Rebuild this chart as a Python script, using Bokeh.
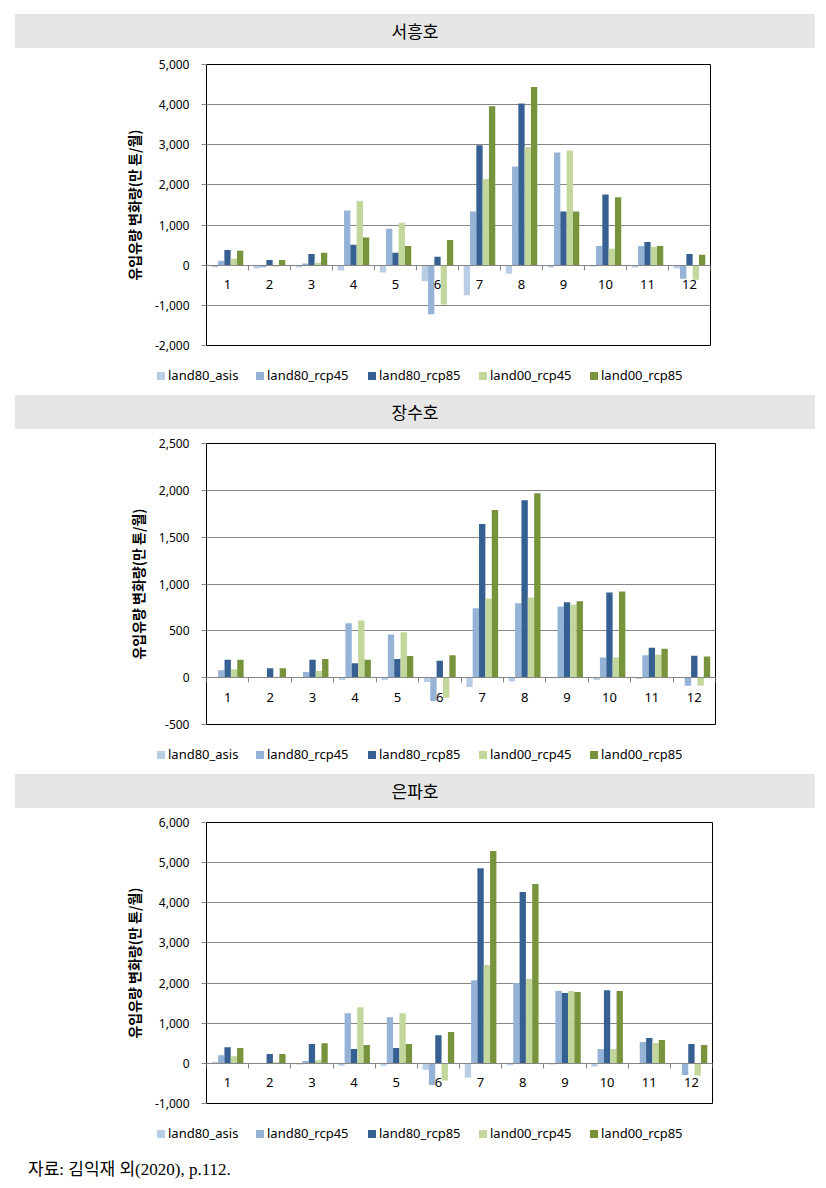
from bokeh.plotting import figure
from bokeh.models import (Range1d, FixedTicker, SingleIntervalTicker, NumeralTickFormatter,
                          Div, ColumnDataSource)
from bokeh.layouts import column
from bokeh.transform import dodge
from bokeh.embed import file_html
from bokeh.resources import INLINE

months = [1, 2, 3, 4, 5, 6, 7, 8, 9, 10, 11, 12]
series_names = ["land80_asis", "land80_rcp45", "land80_rcp85", "land00_rcp45", "land00_rcp85"]
colors = ["#b9cde5", "#95b3d7", "#376092", "#c3d69b", "#77933c"]
y_title = "유입유량 변화량(만 톤/월)"
source_note = "자료: 김익재 외(2020), p.112."

# 서흥호
lake1_name = "서흥호"
lake1_land80_asis = [-50, -80, -50, -130, -180, -400, -750, -210, -60, -30, -60, -80]
lake1_land80_rcp45 = [110, -50, 40, 1360, 910, -1220, 1340, 2460, 2810, 480, 480, -340]
lake1_land80_rcp85 = [380, 130, 280, 510, 310, 210, 2990, 4030, 1340, 1760, 580, 280]
lake1_land00_rcp45 = [160, -30, 60, 1600, 1060, -980, 2150, 2940, 2860, 410, 460, -360]
lake1_land00_rcp85 = [360, 130, 310, 690, 480, 630, 3960, 4440, 1340, 1690, 480, 260]

# 장수호
lake2_name = "장수호"
lake2_land80_asis = [0, 0, 0, -25, -25, -45, -100, -40, -5, -25, -15, 0]
lake2_land80_rcp45 = [80, 0, 60, 580, 460, -250, 740, 795, 760, 215, 240, -85]
lake2_land80_rcp85 = [190, 100, 190, 155, 200, 180, 1640, 1895, 805, 910, 320, 235]
lake2_land00_rcp45 = [90, 5, 70, 610, 485, -215, 845, 855, 780, 215, 245, -85]
lake2_land00_rcp85 = [190, 100, 200, 190, 230, 240, 1790, 1970, 815, 920, 310, 225]

# 은파호
lake3_name = "은파호"
lake3_land80_asis = [40, 0, -30, -60, -60, -160, -360, -50, -30, -80, 0, 0]
lake3_land80_rcp45 = [200, 0, 60, 1250, 1150, -540, 2070, 2000, 1800, 360, 530, -290]
lake3_land80_rcp85 = [400, 230, 480, 355, 380, 700, 4860, 4270, 1750, 1820, 630, 480]
lake3_land00_rcp45 = [180, 30, 80, 1400, 1250, -430, 2450, 2100, 1800, 360, 510, -300]
lake3_land00_rcp85 = [380, 230, 500, 455, 480, 780, 5290, 4470, 1780, 1800, 580, 460]

offsets = [-0.3, -0.15, 0.0, 0.15, 0.3]
bar_w = 0.15
GRID = "#868686"
TICK_FONT = "Noto Sans"
KFONT = "Noto Sans CJK KR"
legend_item_widths = [99, 112, 111, 111, 111]


def title_div(text, top):
    return Div(text=text, width=800, height=34, margin=(top, 0, 0, 15),
               styles={"background-color": "#e6e6e6", "text-align": "center",
                       "font-size": "17px", "line-height": "34px",
                       "font-family": KFONT, "color": "#000"})


def legend_div():
    parts = []
    for n, c, w in zip(series_names, colors, legend_item_widths):
        parts.append(
            f'<span style="display:inline-block;width:{w}px;white-space:nowrap;">'
            f'<span style="display:inline-block;width:8px;height:8px;background:{c};'
            f'margin-right:3px;vertical-align:0px;"></span>{n}</span>')
    return Div(text="".join(parts), width=640, height=40, margin=(0, 0, 0, 157),
               styles={"font-size": "13px", "line-height": "40px", "font-family": TICK_FONT,
                       "color": "#000", "white-space": "nowrap"})


def make_panel(series, ymin, ymax, step, left, right, btop, fh, bbot):
    src = ColumnDataSource(dict(month=months, **{n: v for n, v in zip(series_names, series)}))
    p = figure(frame_width=right - left, frame_height=fh,
               x_range=Range1d(0.5, 12.5), y_range=Range1d(ymin, ymax),
               output_backend="svg", toolbar_location=None,
               min_border_left=left, min_border_right=100,
               min_border_top=btop, min_border_bottom=bbot)
    p.background_fill_color = "white"
    p.border_fill_color = "white"
    p.outline_line_color = "black"
    p.outline_line_width = 1
    p.xgrid.visible = False
    p.ygrid.grid_line_color = GRID
    p.ygrid.grid_line_width = 1
    p.ygrid.ticker = SingleIntervalTicker(interval=step, num_minor_ticks=0)

    for i, n in enumerate(series_names):
        p.vbar(x=dodge("month", offsets[i]), top=n, bottom=0, width=bar_w,
               source=src, fill_color=colors[i], line_color=None, name=n)

    xa = p.xaxis[0]
    xa.fixed_location = 0
    xa.ticker = FixedTicker(ticks=months, minor_ticks=[m - 0.5 for m in months] + [months[-1] + 0.5])
    xa.major_tick_out = 0
    xa.major_tick_in = 0
    xa.minor_tick_out = 5
    xa.minor_tick_in = 0
    xa.minor_tick_line_color = GRID
    xa.axis_line_color = GRID
    xa.major_label_text_font = TICK_FONT
    xa.major_label_text_font_size = "13px"
    xa.major_label_text_color = "#000"
    xa.major_label_standoff = 10

    ya = p.yaxis[0]
    ya.ticker = SingleIntervalTicker(interval=step, num_minor_ticks=0)
    ya.formatter = NumeralTickFormatter(format="0,0")
    ya.major_tick_out = 5
    ya.major_tick_in = 0
    ya.minor_tick_line_color = None
    ya.major_tick_line_color = GRID
    ya.axis_line_color = None
    ya.major_label_text_font = TICK_FONT
    ya.major_label_text_font_size = "12px"
    ya.major_label_text_color = "#000"
    ya.major_label_standoff = 12
    ya.axis_label = y_title
    ya.axis_label_text_font = KFONT
    ya.axis_label_text_font_size = "14px"
    ya.axis_label_text_font_style = "bold"
    ya.axis_label_text_color = "#000"
    ya.axis_label_standoff = 8
    return p


d1 = title_div(lake1_name, 14)
p1 = make_panel([lake1_land80_asis, lake1_land80_rcp45, lake1_land80_rcp85, lake1_land00_rcp45, lake1_land00_rcp85],
                -2000, 5000, 1000, 206, 710, 16, 281, 10)
l1 = legend_div()
d2 = title_div(lake2_name, 0)
p2 = make_panel([lake2_land80_asis, lake2_land80_rcp45, lake2_land80_rcp85, lake2_land00_rcp45, lake2_land00_rcp85],
                -500, 2500, 500, 201, 710, 14, 281, 10)
l2 = legend_div()
d3 = title_div(lake3_name, 0)
p3 = make_panel([lake3_land80_asis, lake3_land80_rcp45, lake3_land80_rcp85, lake3_land00_rcp45, lake3_land00_rcp85],
                -1000, 6000, 1000, 206, 712, 14, 281, 10)
l3 = legend_div()
src_div = Div(text=source_note, width=400, height=26, margin=(4, 0, 0, 28),
              styles={"font-size": "17px", "font-family": "'Liberation Serif', 'Noto Sans CJK KR', serif",
                      "color": "#000", "line-height": "26px"})

layout = column(d1, p1, l1, d2, p2, l2, d3, p3, l3, src_div, spacing=0)
open("out.html", "w").write(file_html(layout, INLINE))
